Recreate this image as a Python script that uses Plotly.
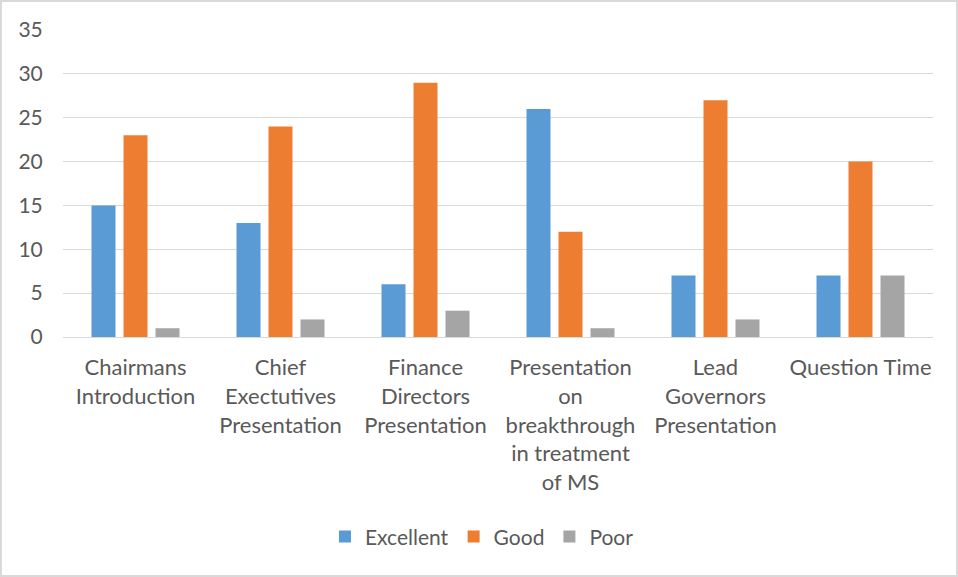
import plotly.graph_objects as go

categories = [
    "Chairmans<br>Introduction",
    "Chief<br>Exectutives<br>Presentation",
    "Finance<br>Directors<br>Presentation",
    "Presentation<br>on<br>breakthrough<br>in treatment<br>of MS",
    "Lead<br>Governors<br>Presentation",
    "Question Time",
]
excellent = [15, 13, 6, 26, 7, 7]
good = [23, 24, 29, 12, 27, 20]
poor = [1, 2, 3, 1, 2, 7]
y_ticks = [0, 5, 10, 15, 20, 25, 30, 35]

W, H = 958, 577
ml, mr, mt, mb = 63, 25, 30, 240

FONT = "Lato, 'Open Sans', sans-serif"
TXT = "#595959"

fig = go.Figure()
fig.add_bar(name="Excellent", x=categories, y=excellent, marker_color="#5B9BD5", marker_line_width=0)
fig.add_bar(name="Good", x=categories, y=good, marker_color="#ED7D31", marker_line_width=0)
fig.add_bar(name="Poor", x=categories, y=poor, marker_color="#A5A5A5", marker_line_width=0)

pw = W - ml - mr
ph = H - mt - mb
fig.update_layout(
    width=W, height=H,
    margin=dict(l=ml, r=mr, t=mt, b=mb, pad=0),
    paper_bgcolor="white", plot_bgcolor="white",
    barmode="group", bargap=0.338, bargroupgap=0.25,
    font=dict(family=FONT, size=21, color=TXT),
    showlegend=True,
    legend=dict(orientation="h", x=0.4816, xanchor="center", y=-0.651, yanchor="middle",
                font=dict(family=FONT, size=21, color=TXT), traceorder="normal",
                itemwidth=30, tracegroupgap=0),
    xaxis=dict(showgrid=False, showline=False, zeroline=False, ticks="outside",
               ticklen=11, tickcolor="rgba(0,0,0,0)", tickfont=dict(family=FONT, size=22, color=TXT)),
    yaxis=dict(range=[0, 35], tickvals=y_ticks, showgrid=True, gridcolor="#D9D9D9", gridwidth=1,
               zeroline=True, zerolinecolor="#D9D9D9", zerolinewidth=1, showline=False,
               ticks="outside", ticklen=15, tickcolor="rgba(0,0,0,0)",
               tickfont=dict(family=FONT, size=21, color=TXT)),
    shapes=[dict(type="rect", xref="paper", yref="paper",
                 x0=(-ml + 1) / pw, x1=(pw + mr - 1) / pw,
                 y0=(-mb + 1) / ph, y1=(ph + mt - 1) / ph,
                 line=dict(color="#D9D9D9", width=2), fillcolor="rgba(0,0,0,0)", layer="below")],
)

fig.write_html("out.html", config={"displayModeBar": False},
               post_script="document.body.style.margin='0';document.body.style.overflow='hidden';")
